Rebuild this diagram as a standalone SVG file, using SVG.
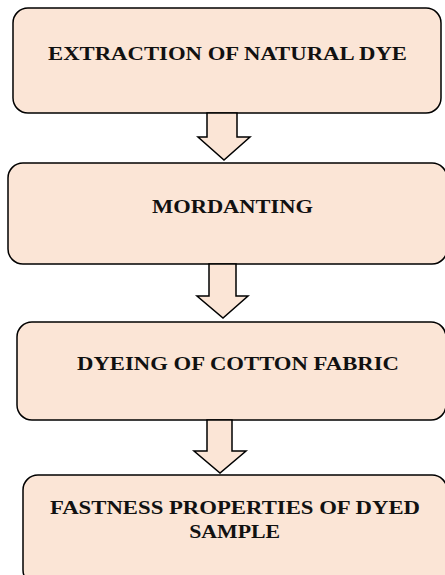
<svg xmlns="http://www.w3.org/2000/svg" width="445" height="575" viewBox="0 0 445 575">
<style>
.box{fill:#FBE5D6;stroke:#000;stroke-width:1.5}
.arr{fill:#FBE5D6;stroke:#000;stroke-width:1.5;stroke-linejoin:miter}
.t{font-family:"Liberation Serif","Times New Roman",serif;font-weight:bold;font-size:19px;fill:#111;text-anchor:middle}
</style>
<rect width="445" height="575" fill="#fff"/>
<g id="node1"><rect class="box" x="13" y="8" width="428" height="105" rx="15"/><text class="t" x="227.5" y="60" textLength="359" lengthAdjust="spacingAndGlyphs">EXTRACTION OF NATURAL DYE</text></g>
<g id="node2"><rect class="box" x="8" y="163" width="439" height="101" rx="15"/><text class="t" x="232.5" y="213" textLength="161" lengthAdjust="spacingAndGlyphs">MORDANTING</text></g>
<g id="node3"><rect class="box" x="17" y="322" width="429" height="98" rx="15"/><text class="t" x="238" y="370" textLength="322" lengthAdjust="spacingAndGlyphs">DYEING OF COTTON FABRIC</text></g>
<g id="node4"><rect class="box" x="23" y="475" width="424" height="110" rx="15"/><text class="t" x="235" y="514" textLength="370" lengthAdjust="spacingAndGlyphs">FASTNESS PROPERTIES OF DYED</text><text class="t" x="234.7" y="538" textLength="91" lengthAdjust="spacingAndGlyphs">SAMPLE</text></g>
<g id="connectors">
<path class="arr" d="M207,113 H237 V137 H250 L224,160 L198,137 H207 Z"/>
<path class="arr" d="M209,264 H236 V296 H248 L223,318 L197,296 H209 Z"/>
<path class="arr" d="M207,420 H232 V451 H246 L220,473 L194,451 H207 Z"/>
</g>
</svg>
